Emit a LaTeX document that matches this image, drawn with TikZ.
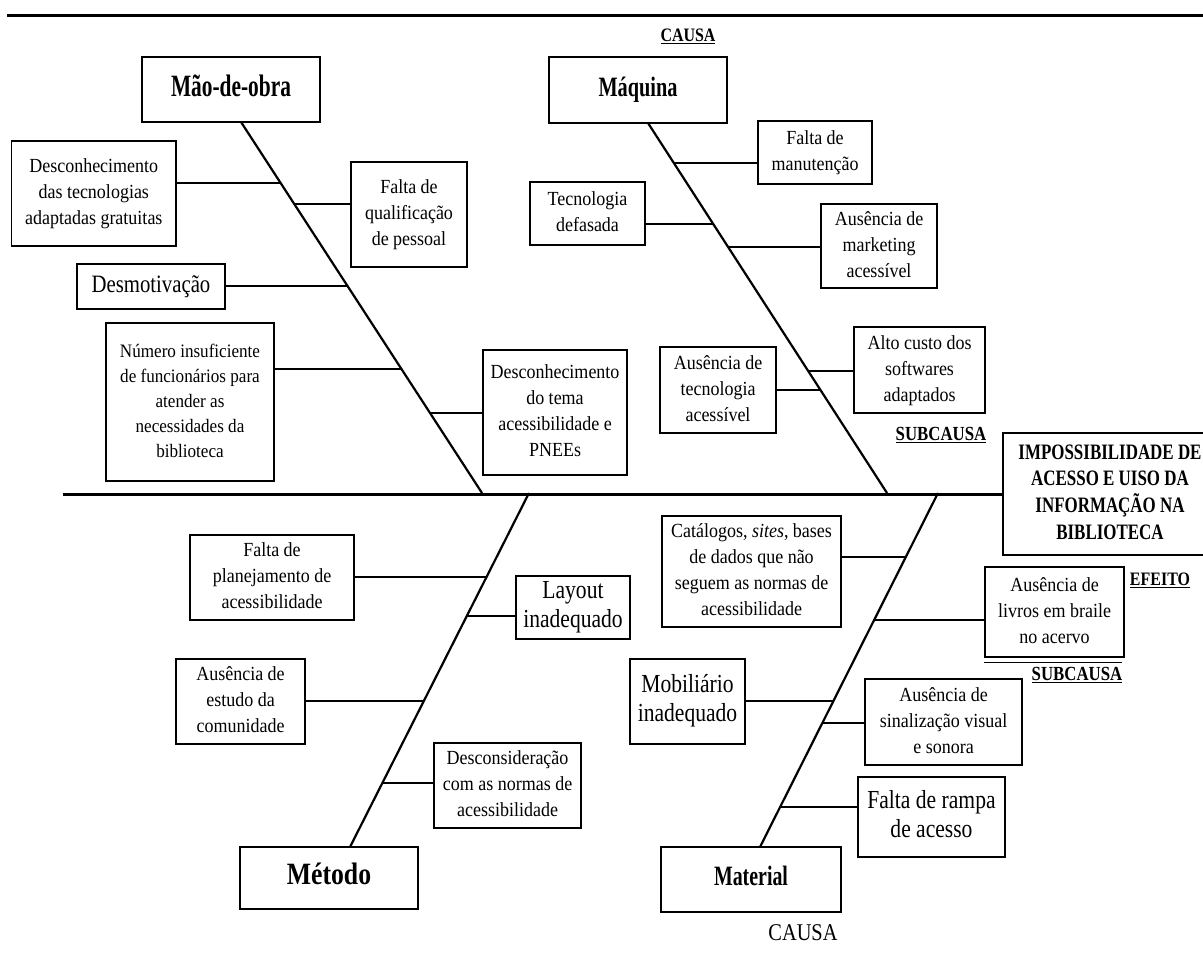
\documentclass[tikz,border=0pt]{standalone}
\usepackage{fontspec}
\setmainfont{Liberation Serif}
\usetikzlibrary{calc}
\newcommand\bx[2][0.9]{\scalebox{#1}[1]{\begin{tabular}{@{}c@{}}#2\end{tabular}}}
\begin{document}
\begin{tikzpicture}[x=1pt,y=-1pt,
  box/.style={draw, line width=1.4pt, inner sep=0pt, font=\fontsize{20}{26}\selectfont},
  big/.style={font=\fontsize{26}{29}\selectfont},
  head/.style={draw, line width=1.6pt, inner sep=0pt, font=\bfseries\fontsize{31}{34}\selectfont},
  bone/.style={line width=2.2pt},
  conn/.style={line width=2pt},
  lbl/.style={inner sep=0pt}
]
\useasboundingbox (0,0) rectangle (1203,958);
\fill[white] (0,0) rectangle (1203,958);

% top rule
\draw[line width=3pt] (7,16) -- (1210,16);

% labels
\node[lbl, font=\bfseries\fontsize{19}{21}\selectfont] (causa1) at (688,36) {\scalebox{0.84}[1]{\underline{CAUSA}}};
\node[lbl, font=\bfseries\fontsize{20}{22}\selectfont] (sub1) at (941,435) {\scalebox{0.84}[1]{\underline{SUBCAUSA}}};
\node[lbl, font=\bfseries\fontsize{19}{21}\selectfont] (efeito) at (1160,580) {\scalebox{0.84}[1]{\underline{EFEITO}}};
\node[lbl, font=\bfseries\fontsize{20}{22}\selectfont] (sub2) at (1077,675) {\scalebox{0.84}[1]{\underline{SUBCAUSA}}};
\node[lbl, font=\fontsize{24}{26}\selectfont] (causa2) at (803,933) {\scalebox{0.85}[1]{CAUSA}};

% head boxes
\node[head, minimum width=178pt, minimum height=65pt] (mao) at (231,89.5) {\bx[0.69]{Mão-de-obra}};
\node[head, minimum width=178pt, minimum height=66pt, font=\bfseries\fontsize{28}{31}\selectfont] (maq) at (638,90) {\bx[0.725]{Máquina}};
\node[head, minimum width=178pt, minimum height=62pt] (metodo) at (329,878) {\bx[0.83]{Método}};
\node[head, minimum width=180pt, minimum height=65pt, font=\bfseries\fontsize{28}{31}\selectfont] (material) at (751,879.5) {\bx[0.71]{Material}};

% effect
\node[draw, line width=1.6pt, inner sep=0pt, minimum width=214pt, minimum height=122pt, font=\bfseries\fontsize{22}{26.5}\selectfont] (effect) at (1110,494) {\bx[0.77]{IMPOSSIBILIDADE DE\\ACESSO E UISO DA\\INFORMAÇÃO NA\\BIBLIOTECA}};

% bones
\coordinate (b1t) at (241,122);
\coordinate (b1b) at (482,493);
\coordinate (b2t) at (648,123);
\coordinate (b2b) at (887,493);
\coordinate (b3t) at (529,493);
\coordinate (b3b) at (350,847);
\coordinate (b4t) at (938,493);
\coordinate (b4b) at (760,847);
\coordinate (sp) at (63,494);
\draw[line width=3pt] (sp) -- (effect.west);
\draw[bone] (b1t) -- (b1b);
\draw[bone] (b2t) -- (b2b);
\draw[bone] (b3t) -- (b3b);
\draw[bone] (b4t) -- (b4b);

% sub-cause boxes: Mão-de-obra
\node[box, minimum width=164.5pt, minimum height=105pt] (desctec) at (93.75,193.5) {\bx{Desconhecimento\\das tecnologias\\adaptadas gratuitas}};
\node[box, minimum width=116pt, minimum height=105pt] (faltaq) at (409,214.5) {\bx{Falta de\\qualificação\\de pessoal}};
\node[box, minimum width=148pt, minimum height=45pt, font=\fontsize{25}{28}\selectfont] (desmot) at (151,286.5) {\bx[0.83]{Desmotivação}};
\node[box, minimum width=168pt, minimum height=158pt, font=\fontsize{19}{25}\selectfont] (numero) at (190,402) {\bx{Número insuficiente\\de funcionários para\\atender as\\necessidades da\\biblioteca}};
\node[box, minimum width=144pt, minimum height=125pt] (desctema) at (555,412.5) {\bx{Desconhecimento\\do tema\\acessibilidade e\\PNEEs}};

% Máquina
\node[box, minimum width=114pt, minimum height=63pt] (faltaman) at (815,152.5) {\bx{Falta de\\manutenção}};
\node[box, minimum width=115pt, minimum height=63pt] (tecdef) at (587.5,213.5) {\bx{Tecnologia\\defasada}};
\node[box, minimum width=116pt, minimum height=84pt] (ausmkt) at (879,246) {\bx{Ausência de\\marketing\\acessível}};
\node[box, minimum width=131pt, minimum height=86pt] (alto) at (919.5,370) {\bx{Alto custo dos\\softwares\\adaptados}};
\node[box, minimum width=116pt, minimum height=86pt] (austec) at (718,390) {\bx{Ausência de\\tecnologia\\acessível}};

% Método
\node[box, minimum width=164pt, minimum height=85pt] (faltaplan) at (272,577.5) {\bx{Falta de\\planejamento de\\acessibilidade}};
\node[box, big, minimum width=114pt, minimum height=63pt] (layout) at (573,607.5) {\bx[0.83]{Layout\\inadequado}};
\node[box, minimum width=129pt, minimum height=85pt] (ausest) at (240.5,701.5) {\bx{Ausência de\\estudo da\\comunidade}};
\node[box, minimum width=147pt, minimum height=85pt] (descons) at (507.5,785.5) {\bx{Desconsideração\\com as normas de\\acessibilidade}};

% Material
\node[box, minimum width=179pt, minimum height=111pt] (catal) at (751.5,571.5) {\bx{Catálogos, \textit{sites}, bases\\de dados que não\\seguem as normas de\\acessibilidade}};
\node[box, minimum width=139pt, minimum height=90pt] (livros) at (1054.5,612) {\bx{Ausência de\\livros em braile\\no acervo}};
\node[box, big, minimum width=115pt, minimum height=85pt] (mobil) at (687.5,701.5) {\bx[0.83]{Mobiliário\\inadequado}};
\node[box, minimum width=157pt, minimum height=86pt] (sinal) at (943.5,722) {\bx{Ausência de\\sinalização visual\\e sonora}};
\node[box, big, minimum width=147pt, minimum height=80pt] (rampa) at (931.5,817) {\bx[0.83]{Falta de rampa\\de acesso}};
\draw[line width=1.2pt] ([yshift=-5pt]livros.south west) -- ([yshift=-5pt,xshift=-3pt]livros.south east);

% connectors
\coordinate (c1) at ($(b1t)!0.1644!(b1b)$);
\coordinate (c2) at ($(b1t)!0.2210!(b1b)$);
\coordinate (c3) at ($(b1t)!0.4420!(b1b)$);
\coordinate (c4) at ($(b1t)!0.6658!(b1b)$);
\coordinate (c5) at ($(b1t)!0.7844!(b1b)$);
\coordinate (c6) at ($(b2t)!0.1081!(b2b)$);
\coordinate (c7) at ($(b2t)!0.2730!(b2b)$);
\coordinate (c8) at ($(b2t)!0.3351!(b2b)$);
\coordinate (c9) at ($(b2t)!0.6703!(b2b)$);
\coordinate (c10) at ($(b2t)!0.7216!(b2b)$);
\coordinate (c11) at ($(b3t)!0.2373!(b3b)$);
\coordinate (c12) at ($(b3t)!0.3475!(b3b)$);
\coordinate (c13) at ($(b3t)!0.5876!(b3b)$);
\coordinate (c14) at ($(b3t)!0.8192!(b3b)$);
\coordinate (c15) at ($(b4t)!0.1808!(b4b)$);
\coordinate (c16) at ($(b4t)!0.3588!(b4b)$);
\coordinate (c17) at ($(b4t)!0.5876!(b4b)$);
\coordinate (c18) at ($(b4t)!0.6497!(b4b)$);
\coordinate (c19) at ($(b4t)!0.8870!(b4b)$);

\draw[conn] (desctec.east |- c1) -- (c1);
\draw[conn] (c2) -- (faltaq.west |- c2);
\draw[conn] (desmot.east |- c3) -- (c3);
\draw[conn] (numero.east |- c4) -- (c4);
\draw[conn] (c5) -- (desctema.west |- c5);
\draw[conn] (c6) -- (faltaman.west |- c6);
\draw[conn] (tecdef.east |- c7) -- (c7);
\draw[conn] (c8) -- (ausmkt.west |- c8);
\draw[conn] (c9) -- (alto.west |- c9);
\draw[conn] (austec.east |- c10) -- (c10);
\draw[conn] (faltaplan.east |- c11) -- (c11);
\draw[conn] (c12) -- (layout.west |- c12);
\draw[conn] (ausest.east |- c13) -- (c13);
\draw[conn] (c14) -- (descons.west |- c14);
\draw[conn] (catal.east |- c15) -- (c15);
\draw[conn] (c16) -- (livros.west |- c16);
\draw[conn] (mobil.east |- c17) -- (c17);
\draw[conn] (c18) -- (sinal.west |- c18);
\draw[conn] (c19) -- (rampa.west |- c19);
\end{tikzpicture}
\end{document}
